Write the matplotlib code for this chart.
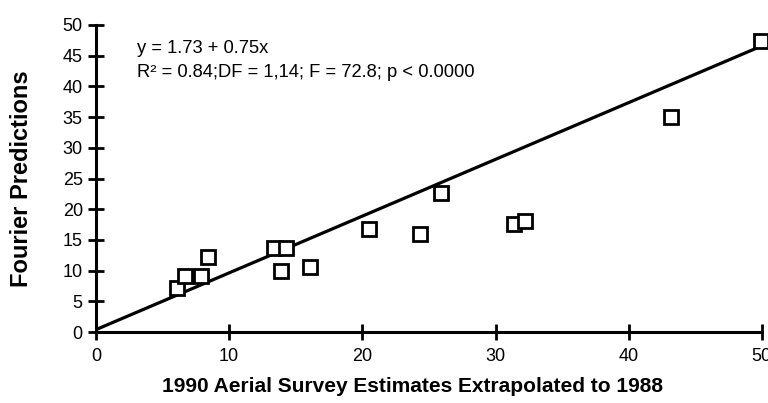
import matplotlib
matplotlib.use('Agg')
import matplotlib.pyplot as plt

plt.rcParams['font.family'] = ['Liberation Sans', 'DejaVu Sans']

# data
aerial = [6.1, 6.7, 7.9, 8.4, 13.4, 14.3, 13.9, 16.1, 20.5, 24.3, 25.9, 31.4, 32.2, 43.2, 49.9]
fourier = [7.2, 9.2, 9.2, 12.2, 13.7, 13.7, 10.0, 10.6, 16.8, 15.9, 22.6, 17.6, 18.1, 35.0, 47.4]
line_x = [0, 50]
line_y = [0.4, 46.6]

fig = plt.figure(figsize=(7.68, 4.03), dpi=100)
ax = fig.add_axes([0.125, 0.176, 0.867, 0.762])

ax.plot(line_x, line_y, color='black', lw=2.3, solid_capstyle='butt')
ax.plot(aerial, fourier, ls='none', marker='s', ms=9.5, mfc='white',
        mec='black', mew=2.0, clip_on=False)

ax.set_xlim(0, 50)
ax.set_ylim(0, 50)
ax.set_xticks(range(0, 51, 10))
ax.set_yticks(range(0, 51, 5))
for s in ['top', 'right']:
    ax.spines[s].set_visible(False)
for s in ['left', 'bottom']:
    ax.spines[s].set_linewidth(2.2)
ax.tick_params(direction='inout', length=11, width=2.0, labelsize=13)
ax.tick_params(axis='x', pad=6)
ax.tick_params(axis='y', pad=4)

ax.set_xlabel('1990 Aerial Survey Estimates Extrapolated to 1988',
              fontsize=15, fontweight='bold')
ax.xaxis.set_label_coords(0.476, -0.145)
ax.set_ylabel('Fourier Predictions', fontsize=17, fontweight='bold')
ax.yaxis.set_label_coords(-0.095, 0.5)

ax.text(3.1, 46.1, 'y = 1.73 + 0.75x', fontsize=13.2, va='center')
ax.text(3.1, 42.2, 'R² = 0.84;DF = 1,14; F = 72.8; p < 0.0000',
        fontsize=13.2, va='center')

fig.savefig('out.png', dpi=100)
